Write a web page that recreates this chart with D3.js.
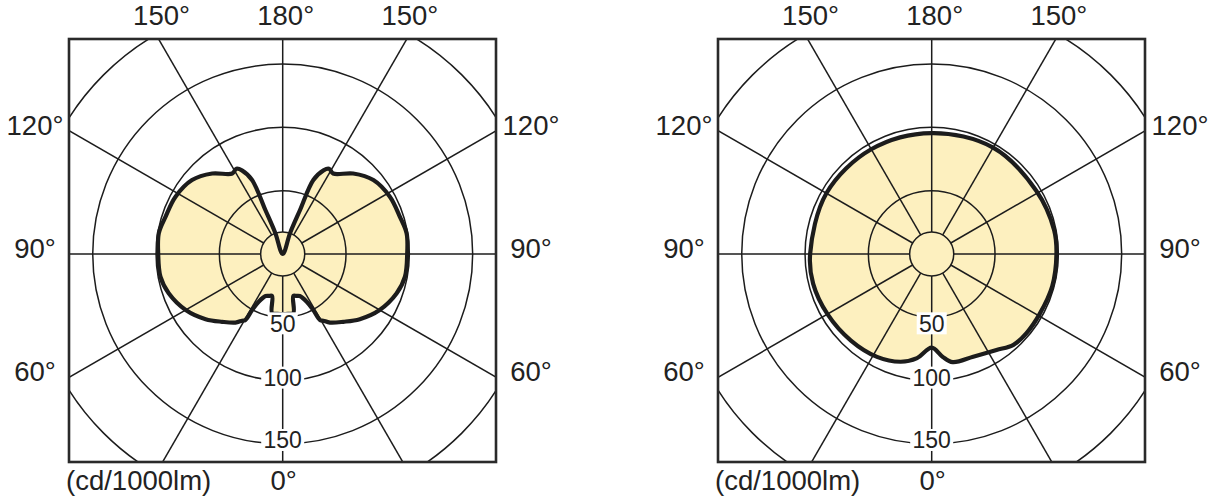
<!DOCTYPE html>
<html>
<head>
<meta charset="utf-8">
<script src="https://cdn.jsdelivr.net/npm/d3@7"></script>
<style>
  html, body { margin: 0; padding: 0; background: #fff; }
  svg { display: block; }
  text { font-family: "Liberation Sans", Arial, sans-serif; fill: #222; }
</style>
</head>
<body>
<svg id="chart" width="1209" height="500"></svg>
<script>
// ---------------- DATA ----------------
const ringValues = [50, 100, 150, 200];
const ringLabels = ["50", "100", "150"];
const hubValue = 17.4;
const spokeAngles = [0, 30, 60, 90, 120, 150, 180, 210, 240, 270, 300, 330];
const topLabels = ["150°", "180°", "150°"];
const topLabelAngles = [150, 180, 150];
const sideLabels = ["120°", "90°", "60°"];
const sideLabelAngles = [120, 90, 60];
const bottomLabel = "0°";
const unitLabel = "(cd/1000lm)";

// Left diagram (symmetric): angle from nadir (deg) -> cd/1000lm
const leftAngles = [0, 5, 10.2, 14.2, 18, 22, 26.7, 28.6, 29.5, 31.3, 34.6, 41.8, 49.8, 60, 71, 79.5, 90, 99.5, 107.6, 118, 129.2, 138.8, 147.9, 151.5, 154, 157.5, 158.5, 160.6, 180];
const leftValues = [47.4, 47.4, 47.4, 34.2, 34.8, 35.8, 42.2, 50.4, 59.8, 61.6, 65.8, 71.8, 79.7, 88.4, 95.2, 98.2, 98.3, 99.2, 97.1, 96.0, 92.4, 84.5, 75.0, 76.6, 73.5, 63.2, 37.1, 17.4, 0];

// Right diagram: east half and west half
const rightAnglesEast = [0, 6, 11, 22, 34, 42, 50, 61, 75, 90, 101, 121, 150, 180];
const rightValuesEast = [74, 81.5, 87, 87.5, 91.5, 96.5, 97.5, 97.5, 98.5, 98.5, 98.5, 96.5, 97, 95.5];
const rightAnglesWest = [0, 8, 16, 28, 43, 60, 76, 90, 120, 150, 180];
const rightValuesWest = [74, 83, 88.5, 92, 93.5, 95, 96.5, 96, 96, 95.5, 95.5];

// ---------------- LAYOUT ----------------
const svg = d3.select("#chart");
const fillColor = "#fdf0bf";
const lineColor = "#1c1c1c";
const r = d3.scaleLinear().domain([0, 200]).range([0, 253.3]);

const panels = [
  { cx: 282.7, cy: 254, box: [69, 39, 496, 462],
    east: leftAngles.map((a, i) => [a, leftValues[i]]),
    west: leftAngles.map((a, i) => [a, leftValues[i]]),
    curve: d3.curveCatmullRomClosed.alpha(0.5) },
  { cx: 931.7, cy: 254, box: [718, 39, 1145, 462],
    east: rightAnglesEast.map((a, i) => [a, rightValuesEast[i]]),
    west: rightAnglesWest.map((a, i) => [a, rightValuesWest[i]]),
    curve: d3.curveCatmullRomClosed }
];

const rad = d => d * Math.PI / 180;
const fs = 27.5;

panels.forEach((p, pi) => {
  const [x0, y0, x1, y1] = p.box;
  const clipId = "clip" + pi;
  svg.append("clipPath").attr("id", clipId)
    .append("rect").attr("x", x0).attr("y", y0).attr("width", x1 - x0).attr("height", y1 - y0);

  const g = svg.append("g");
  const inner = g.append("g").attr("clip-path", `url(#${clipId})`)
    .append("g").attr("transform", `translate(${p.cx},${p.cy})`);

  const pts = [];
  p.east.forEach(([a, v]) => pts.push([Math.PI - rad(a), v]));
  p.west.slice().reverse().forEach(([a, v], i, arr) => {
    if (i === 0 || i === arr.length - 1) return;
    pts.push([Math.PI + rad(a), v]);
  });
  const line = d3.lineRadial().angle(d => d[0]).radius(d => r(d[1])).curve(p.curve);

  inner.append("path").attr("d", line(pts)).attr("fill", fillColor).attr("stroke", "none");

  inner.append("circle").attr("r", r(hubValue)).attr("fill", fillColor)
    .attr("stroke", lineColor).attr("stroke-width", 1.5);

  inner.selectAll(".ring").data(ringValues).enter().append("circle")
    .attr("r", d => r(d)).attr("fill", "none")
    .attr("stroke", lineColor).attr("stroke-width", 1.5);

  inner.selectAll(".spoke").data(spokeAngles).enter().append("line")
    .attr("x1", d => r(hubValue) * Math.sin(rad(d)))
    .attr("y1", d => r(hubValue) * Math.cos(rad(d)))
    .attr("x2", d => 400 * Math.sin(rad(d)))
    .attr("y2", d => 400 * Math.cos(rad(d)))
    .attr("stroke", lineColor).attr("stroke-width", 1.5);

  inner.append("path").attr("d", line(pts)).attr("fill", "none")
    .attr("stroke", lineColor).attr("stroke-width", 4.2).attr("stroke-linejoin", "round");

  const labelDy = [6, -3, -4];
  ringLabels.forEach((t, i) => {
    const yy = r(ringValues[i]) + labelDy[i];
    const w = t.length * 13 + 4;
    inner.append("rect").attr("x", -w / 2).attr("y", yy - 11).attr("width", w).attr("height", 22)
      .attr("fill", "#fff");
    inner.append("text").attr("x", 0).attr("y", yy + 8.5).attr("text-anchor", "middle")
      .attr("font-size", 23).text(t);
  });

  g.append("rect").attr("x", x0).attr("y", y0).attr("width", x1 - x0).attr("height", y1 - y0)
    .attr("fill", "none").attr("stroke", "#2a2a2a").attr("stroke-width", 2.6);

  const topDist = p.cy - y0;
  topLabels.forEach((t, i) => {
    const a = topLabelAngles[i];
    const sgn = i === 0 ? -1 : (i === 2 ? 1 : 0);
    const x = p.cx + sgn * topDist * Math.tan(rad(180 - a)) + 3;
    g.append("text").attr("x", x).attr("y", 25).attr("text-anchor", "middle")
      .attr("font-size", fs).text(t);
  });

  const sideDistL = p.cx - x0, sideDistR = x1 - p.cx;
  sideLabels.forEach((t, i) => {
    const a = sideLabelAngles[i];
    const yL = p.cy + sideDistL / Math.tan(rad(a)) - 6;
    const yR = p.cy + sideDistR / Math.tan(rad(a)) - 6;
    g.append("text").attr("x", x0 - 34).attr("y", yL + 10).attr("text-anchor", "middle")
      .attr("font-size", fs).text(t);
    g.append("text").attr("x", x1 + 35).attr("y", yR + 10).attr("text-anchor", "middle")
      .attr("font-size", fs).text(t);
  });

  g.append("text").attr("x", p.cx + 1).attr("y", 490).attr("text-anchor", "middle")
    .attr("font-size", fs).text(bottomLabel);
  g.append("text").attr("x", x0 - 3).attr("y", 490).attr("text-anchor", "start")
    .attr("font-size", fs).text(unitLabel);
});
</script>
</body>
</html>
